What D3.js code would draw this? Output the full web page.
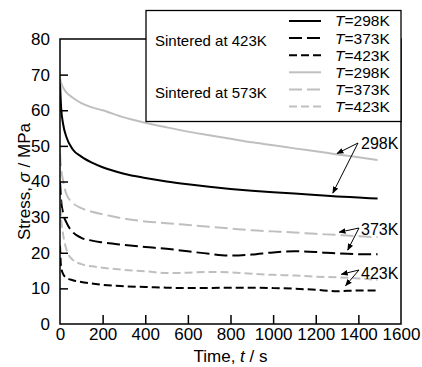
<!DOCTYPE html>
<html><head><meta charset="utf-8">
<script src="https://cdn.jsdelivr.net/npm/d3@7"></script>
<style>body{margin:0;background:#fff}svg{display:block;font-family:"Liberation Sans",Arial,sans-serif}</style>
</head><body><svg id="c" width="422" height="367"></svg>
<script>
const xTicks = [0,200,400,600,800,1000,1200,1400,1600];
const yTicks = [0,10,20,30,40,50,60,70,80];
const t = [0,5,15,30,60,100,150,200,300,400,500,600,700,800,900,1000,1100,1200,1300,1400,1490];
const s423_298 = [68,61,56,52.5,49,47,45.3,44,42.2,41,40,39.2,38.5,37.9,37.4,37,36.6,36.2,35.8,35.5,35.2];
const s423_373 = [40,35,31,28.5,25.8,24.2,23.4,22.9,22.2,21.6,21.1,20.4,19.7,19.2,19.5,20.1,20.4,20.2,19.8,19.6,19.6];
const s423_423 = [22,16,14,13,12.3,11.8,11.4,11,10.6,10.4,10.2,10.1,10.1,10.2,10.2,10.1,9.9,9.6,9.2,9.4,9.4];
const s573_298 = [69,67.8,66.3,65,63.5,62,60.8,60,58,56.5,55.2,54,53,52,51,50.2,49.3,48.5,47.6,46.8,46];
const s573_373 = [48,44,40,36.5,34,32.5,31.5,30.8,29.6,28.8,28.3,27.8,27.3,26.8,26.3,26,25.7,25.3,25,24.6,24.4];
const s573_423 = [36,30,25,21,18,16.8,16.2,15.8,15.2,14.8,14.3,14.4,14.6,14.5,14.1,13.8,13.6,13.3,13.1,12.8,12.4];
const seriesNames = ["T=298K","T=373K","T=423K","T=298K","T=373K","T=423K"];
const groupLabels = ["Sintered at 423K","Sintered at 573K"];
const annLabels = ["298K","373K","423K"];

const series = [
  {v:s423_298, c:"#000", d:null},
  {v:s423_373, c:"#000", d:"13,5"},
  {v:s423_423, c:"#000", d:"8,4"},
  {v:s573_298, c:"#bfbfbf", d:null},
  {v:s573_373, c:"#bfbfbf", d:"13,5"},
  {v:s573_423, c:"#bfbfbf", d:"8,4"}
];
const svg = d3.select("#c");
const L=60,R=401,T=39,B=324;
const x = d3.scaleLinear().domain([0,1600]).range([L,R]);
const y = d3.scaleLinear().domain([0,80]).range([B,T]);

const defs = svg.append("defs");
defs.append("clipPath").attr("id","clip").append("rect")
  .attr("x",L).attr("y",T).attr("width",R-L).attr("height",B-T);
const line = d3.line().x((d,i)=>x(t[i])).y(d=>y(d)).curve(d3.curveMonotoneX);
const g = svg.append("g").attr("clip-path","url(#clip)");
series.forEach(s=>{
  g.append("path").attr("d",line(s.v)).attr("fill","none").attr("stroke",s.c)
   .attr("stroke-width",2).attr("stroke-dasharray",s.d);
});

svg.append("rect").attr("x",L).attr("y",T).attr("width",R-L).attr("height",B-T)
  .attr("fill","none").attr("stroke","#000").attr("stroke-width",1.5);
const yAxis = d3.axisLeft(y).tickValues(yTicks).tickSize(-8).tickPadding(10).tickFormat(d3.format("d"));
const ya = svg.append("g").attr("transform",`translate(${L},0)`).call(yAxis);
const xAxis = d3.axisBottom(x).tickValues(xTicks).tickSize(-9).tickPadding(4).tickFormat(d3.format("d"));
const xa = svg.append("g").attr("transform",`translate(0,${B})`).call(xAxis);
[ya,xa].forEach(a=>{
  a.attr("font-family",null).attr("font-size",null);
  a.select(".domain").remove();
  a.selectAll(".tick line").attr("stroke","#000").attr("stroke-width",1.5);
  a.selectAll(".tick text").attr("font-size",17).attr("fill","#000");
});
ya.selectAll(".tick").filter(d=>d===0||d===80).select("line").remove();
xa.selectAll(".tick").filter(d=>d===0||d===1600).select("line").remove();

const xt = svg.append("text").attr("x",(L+R)/2).attr("y",362).attr("text-anchor","middle").attr("font-size",17);
xt.append("tspan").text("Time, ");
xt.append("tspan").attr("font-style","italic").text("t");
xt.append("tspan").text(" / s");
const yt = svg.append("text").attr("transform",`translate(30,${(T+B)/2}) rotate(-90)`).attr("text-anchor","middle").attr("font-size",17);
yt.append("tspan").text("Stress, ");
yt.append("tspan").attr("font-style","italic").text("σ");
yt.append("tspan").text(" / MPa");

const lg = svg.append("g");
lg.append("rect").attr("x",146).attr("y",10.5).attr("width",R-146).attr("height",111)
  .attr("fill","#fff").attr("stroke","#000").attr("stroke-width",1.3);
const rowY = d3.range(6).map(i=>21+i*17.1);
series.forEach((s,i)=>{
  lg.append("line").attr("x1",289).attr("x2",321).attr("y1",rowY[i]).attr("y2",rowY[i])
    .attr("stroke",s.c).attr("stroke-width",2).attr("stroke-dasharray",s.d);
  const tx = lg.append("text").attr("x",335).attr("y",rowY[i]).attr("dy","0.35em").attr("font-size",15.5);
  const parts = seriesNames[i].split("=");
  tx.append("tspan").attr("font-style","italic").text(parts[0]);
  tx.append("tspan").text("="+parts[1]);
});
groupLabels.forEach((gl,i)=>{
  lg.append("text").attr("x",155).attr("y",i?93:41).attr("dy","0.35em").attr("font-size",15).text(gl);
});

defs.append("marker").attr("id","ah").attr("viewBox","0 0 10 10").attr("refX",9).attr("refY",5)
  .attr("markerWidth",7).attr("markerHeight",7).attr("orient","auto")
  .append("path").attr("d","M0,1 L10,5 L0,9 Z").attr("fill","#000");
const ann = [
  {lab:annLabels[0], ty:143, o:[358,143], tg:[[1300,47.3],[1280,36.2]]},
  {lab:annLabels[1], ty:229, o:[359,228], tg:[[1310,25.2],[1350,20.2]]},
  {lab:annLabels[2], ty:273, o:[359,270], tg:[[1320,13.4],[1340,10.2]]}
];
ann.forEach(a=>{
  svg.append("text").attr("x",361).attr("y",a.ty).attr("dy","0.35em").attr("font-size",16).text(a.lab);
  a.tg.forEach(p=>{
    svg.append("line").attr("x1",a.o[0]).attr("y1",a.o[1]).attr("x2",x(p[0])).attr("y2",y(p[1])-2)
      .attr("stroke","#000").attr("stroke-width",1).attr("marker-end","url(#ah)");
  });
});
</script></body></html>
